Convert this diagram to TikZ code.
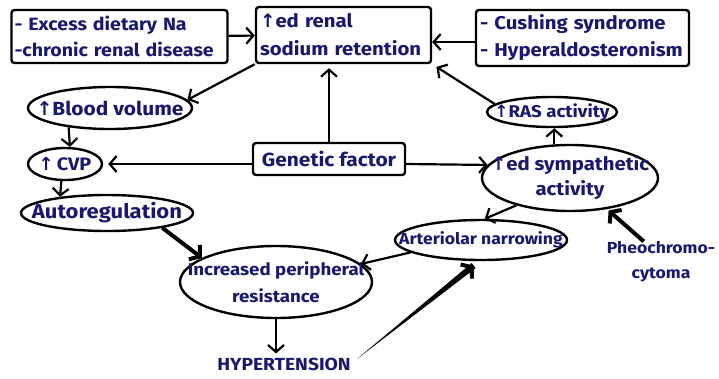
\documentclass[tikz,border=0pt]{standalone}
\usepackage{fontspec}
\setmainfont{Fira Sans}[FakeStretch=1.1]
\newfontfamily\dv{DejaVu Sans}
\usetikzlibrary{arrows.meta,shapes.geometric,calc}
\definecolor{ink}{HTML}{18186E}
\newcommand\hand[2][17]{\bfseries\fontsize{#1}{#2}\selectfont}
\newcommand\up{{\dv ↑}}
\tikzset{
  box/.style={draw=black, line width=2.4pt, rounded corners=3pt, inner sep=4pt, align=left, text=ink},
  oval/.style={ellipse, draw=black, line width=2.4pt, inner sep=0pt},
  txt/.style={text=ink, align=center, inner sep=0pt},
  arr/.style={line width=2.2pt, -{Straight Barb[length=7pt,width=16pt]}},
  bigarr/.style={line width=4pt, -{Straight Barb[length=7pt,width=18pt]}},
}
\begin{document}
\begin{tikzpicture}[x=1pt,y=-1pt]
\useasboundingbox[fill=white] (0,0) rectangle (719,378);
% boxes
\node[box, font={\hand[17.8]{26}}, inner sep=3pt, text width=210pt, minimum height=53pt] (b1) at (119.5,36.5) {- Excess dietary Na\\-chronic renal disease};
\node[box, font={\hand[18.5]{28}}, text width=167pt, minimum height=56pt] (b2) at (343.5,35) {\up ed renal\\sodium retention};
\node[box, font={\hand[18.5]{27}}, text width=205pt, minimum height=56pt] (b3) at (582.5,38) {- Cushing syndrome\\- Hyperaldosteronism};
\node[box, font={\hand[19]{24}}, minimum width=152pt, minimum height=32pt, align=center] (gen) at (329,159) {Genetic factor};
% ovals
\node[oval, minimum width=164pt, minimum height=42pt, label={[txt,font={\hand[19]{24}}]center:{\up Blood volume}}] (bv) at (110,108) {};
\node[oval, minimum width=74pt, minimum height=32pt, label={[txt,font={\hand[18]{24}}]center:{\up\,CVP}}] (cvp) at (65,164) {};
\node[oval, minimum width=172pt, minimum height=36pt, label={[txt,font={\hand[20]{24}}]center:{Autoregulation}}] (auto) at (107,213) {};
\node[oval, minimum width=130pt, minimum height=30pt, label={[txt,font={\hand[17]{24}}]center:{\up RAS activity}}] (ras) at (552,112) {};
\node[oval, minimum width=176pt, minimum height=66pt, label={[txt,font={\hand[18.5]{25}}]center:{\up ed sympathetic\\activity}}] (symp) at (570,178) {};
\node[oval, minimum width=172pt, minimum height=40pt, label={[txt,font={\hand[16]{24}}]center:{Arteriolar narrowing}}] (art) at (481,240) {};
\node[oval, minimum width=192pt, minimum height=72pt, label={[txt,font={\hand[17]{27}}]center:{Increased peripheral\\resistance}}] (incr) at (276,282) {};
\node[txt, font={\hand[17.5]{24}}] (hyp) at (284,364) {HYPERTENSION};
\node[txt, font={\hand[16]{25}}] (pheo) at (661,262) {Pheochromo-\\cytoma};
% connectors
\draw[arr] (b1) -- (b2);
\draw[arr] ([yshift=-4pt]b3.west) -- ([yshift=-7pt]b2.east);
\draw[arr] (b2.south west) -- (bv.6);
\draw[arr] (bv.205) -- (cvp.74);
\draw[arr] (cvp.258) -- (auto.161);
\draw[arr, shorten >=5pt] (gen.west |- cvp.east) -- (cvp.east);
\draw[arr] (gen.east |- cvp.east) -- (symp.171);
\draw[arr, shorten >=4pt] (gen.north) -- (gen.north |- b2.south);
\draw[arr] (symp.115) -- (symp.115 |- ras.south);
\draw[arr, shorten >=5pt] (ras.172) -- (b2.south east);
\draw[arr] (symp.207) -- (art.80);
\draw[bigarr, shorten >=2pt] (pheo.130) -- (symp.-40);
\draw[arr] (art.190) -- (incr.12);
\draw[bigarr] (auto.-15) -- (incr.162);
\draw[arr, shorten >=4pt] (incr.south) -- (incr.south |- hyp.north);
\coordinate (hs) at ([xshift=6pt,yshift=5pt]hyp.east);
\coordinate (he) at ($(art.265)!7pt!(hs)$);
\fill (hs) -- ($(he)!3.2pt!90:(hs)$) -- ($(he)!3.2pt!-90:(hs)$) -- cycle;
\draw[bigarr] ($(he)!14pt!(hs)$) -- (he);
\end{tikzpicture}
\end{document}
